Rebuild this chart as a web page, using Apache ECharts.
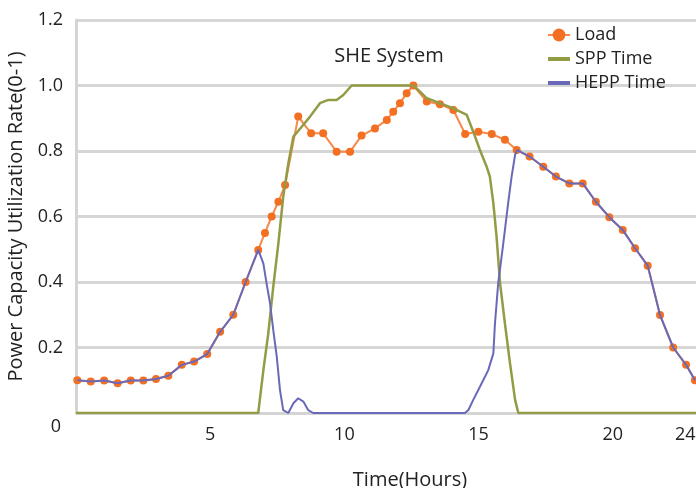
<!DOCTYPE html>
<html>
<head>
<meta charset="utf-8">
<script src="https://cdn.jsdelivr.net/npm/echarts@6/dist/echarts.min.js"></script>
<style>
  html, body { margin: 0; padding: 0; background: #fff; }
  #main { width: 696px; height: 488px; }
</style>
</head>
<body>
<div id="main"></div>
<script>
// hours and values
var loadHours = [0.05, 0.55, 1.05, 1.55, 2.04, 2.51, 2.98, 3.44, 3.94, 4.40, 4.89, 5.37, 5.86, 6.32, 6.79,
  7.04, 7.29, 7.54, 7.79, 8.28, 8.76, 9.21, 9.71, 10.21, 10.64, 11.14, 11.58, 11.82, 12.07, 12.32, 12.57,
  13.07, 13.56, 14.06, 14.50, 14.99, 15.49, 15.98, 16.42, 16.90, 17.41, 17.88, 18.38, 18.88, 19.37, 19.87,
  20.37, 20.83, 21.30, 21.76, 22.25, 22.73, 23.06];
var loadValues = [0.100, 0.096, 0.099, 0.091, 0.099, 0.099, 0.104, 0.114, 0.147, 0.157, 0.180, 0.248, 0.300, 0.400, 0.498,
  0.550, 0.600, 0.645, 0.696, 0.905, 0.854, 0.854, 0.798, 0.798, 0.847, 0.869, 0.895, 0.920, 0.946, 0.976, 1.000,
  0.951, 0.943, 0.925, 0.852, 0.859, 0.852, 0.834, 0.803, 0.783, 0.752, 0.722, 0.701, 0.701, 0.645, 0.598,
  0.559, 0.503, 0.450, 0.299, 0.200, 0.147, 0.100];

var sppHours = [0, 6.79, 6.98, 7.16, 7.35, 7.54, 7.72, 7.91, 8.10, 8.41, 8.72, 9.09, 9.40, 9.71, 9.96, 10.27,
  12.57, 12.82, 13.07, 13.56, 14.06, 14.56, 14.80, 15.05, 15.30, 15.42, 15.55, 15.67, 15.80, 15.98, 16.17,
  16.36, 16.48, 23.1];
var sppValues = [0, 0, 0.13, 0.24, 0.386, 0.518, 0.66, 0.762, 0.844, 0.874, 0.905, 0.946, 0.956, 0.956, 0.971, 1.0,
  1.0, 0.981, 0.961, 0.946, 0.93, 0.91, 0.859, 0.803, 0.752, 0.722, 0.64, 0.538, 0.396, 0.274, 0.152,
  0.04, 0, 0];

var heppHours = [0.05, 0.55, 1.05, 1.55, 2.04, 2.51, 2.98, 3.44, 3.94, 4.40, 4.89, 5.37, 5.86, 6.32, 6.79,
  6.98, 7.10, 7.23, 7.35, 7.48, 7.60, 7.72, 7.91, 8.10, 8.28, 8.47, 8.65, 8.84, 14.49, 14.62, 14.80, 15.05,
  15.36, 15.55, 15.61, 15.73, 15.92, 16.10, 16.23, 16.36, 16.44, 16.90, 17.41, 17.88, 18.38, 18.88, 19.37,
  19.87, 20.37, 20.83, 21.30, 21.76, 22.25, 22.73, 23.06];
var heppValues = [0.100, 0.096, 0.099, 0.091, 0.099, 0.099, 0.104, 0.114, 0.147, 0.157, 0.180, 0.248, 0.300, 0.400, 0.498,
  0.457, 0.396, 0.335, 0.253, 0.172, 0.07, 0.009, 0, 0.03, 0.045, 0.035, 0.009, 0, 0, 0.009, 0.04, 0.08,
  0.131, 0.182, 0.274, 0.396, 0.518, 0.64, 0.722, 0.788, 0.803, 0.783, 0.752, 0.722, 0.701, 0.701, 0.645,
  0.598, 0.559, 0.503, 0.450, 0.299, 0.200, 0.147, 0.100];

var xTickValues = [5, 10, 15, 20, 22.7];
var xTickLabels = ['5', '10', '15', '20', '24'];

function pairs(xs, ys) {
  return xs.map(function (x, i) { return [x, ys[i]]; });
}

var font = 'Open Sans';
var fs = 18;      // ticks, legend
var nameFs = 20;  // axis names, title
// thin bar legend icon for the plain lines
var barIcon = 'path://M0,0 M22,14 M0,5h22v4h-22z';

var chart = echarts.init(document.getElementById('main'));

var option = {
  backgroundColor: '#fff',
  animation: false,
  textStyle: { fontFamily: font },
  title: {
    text: 'SHE System',
    left: 384, top: 41, textAlign: 'center',
    textStyle: { fontFamily: font, fontSize: nameFs, fontWeight: 'normal', color: '#222' }
  },
  legend: {
    orient: 'vertical',
    left: 542, top: 21,
    itemGap: 6, itemWidth: 22, itemHeight: 16,
    textStyle: { fontFamily: font, fontSize: fs, color: '#222' },
    data: [
      { name: 'Load' },
      { name: 'SPP Time', icon: barIcon },
      { name: 'HEPP Time', icon: barIcon }
    ]
  },
  // keep the plot box fixed, labels may run to the edge
  grid: { left: 76, right: 0, top: 20, bottom: 75, outerBoundsMode: 'none' },
  xAxis: {
    type: 'value', min: 0, max: 23.1,
    name: 'Time(Hours)', nameLocation: 'middle', nameGap: 57,
    nameTextStyle: { fontFamily: font, fontSize: nameFs, color: '#222', padding: [0, 0, 0, 48] },
    axisLine: { show: true, lineStyle: { color: '#d4d4d4', width: 2 } },
    axisTick: { show: false },
    splitLine: { show: false },
    axisLabel: {
      customValues: xTickValues,
      margin: 13, fontSize: fs, color: '#222', fontFamily: font,
      formatter: function (v) {
        var i = xTickValues.indexOf(v);
        return i >= 0 ? xTickLabels[i] : '';
      }
    }
  },
  yAxis: {
    type: 'value', min: 0, max: 1.2, interval: 0.2,
    name: 'Power Capacity Utilization Rate(0-1)', nameLocation: 'middle', nameGap: 41,
    nameTextStyle: { fontFamily: font, fontSize: nameFs, color: '#222' },
    axisLine: { show: true, lineStyle: { color: '#d4d4d4', width: 3 } },
    axisTick: { show: false },
    axisLabel: {
      margin: 13, fontSize: fs, color: '#222', fontFamily: font,
      formatter: function (v) { return v === 0 ? '{z|0}' : v.toFixed(1); },
      rich: { z: { fontSize: fs, color: '#222', fontFamily: font, padding: [28, 2, 0, 0] } }
    },
    splitLine: { show: true, lineStyle: { color: '#d6d6d6', width: 3 } }
  },
  series: [
    {
      name: 'Load', type: 'line', z: 3,
      data: pairs(loadHours, loadValues),
      symbol: 'circle', symbolSize: 8,
      itemStyle: { color: '#f36f21' },
      lineStyle: { color: '#f7894a', width: 2 }
    },
    {
      name: 'SPP Time', type: 'line', z: 4,
      data: pairs(sppHours, sppValues),
      symbol: 'none',
      itemStyle: { color: '#939c45' },
      lineStyle: { color: '#939c45', width: 2.5 }
    },
    {
      name: 'HEPP Time', type: 'line', z: 5,
      data: pairs(heppHours, heppValues),
      symbol: 'none',
      itemStyle: { color: '#6a68b8' },
      lineStyle: { color: '#6a68b8', width: 2 }
    }
  ]
};

chart.setOption(option);
</script>
</body>
</html>
